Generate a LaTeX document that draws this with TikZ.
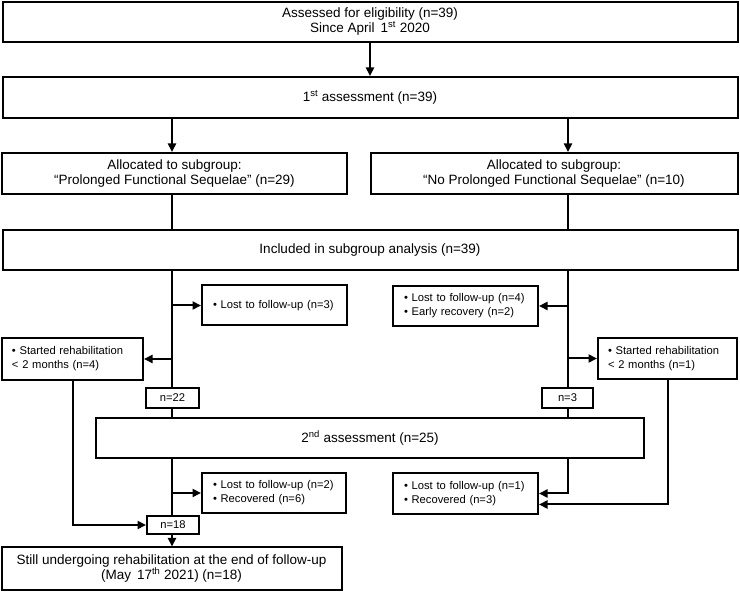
\documentclass[tikz,border=0pt]{standalone}
\usepackage{fontspec}
\setmainfont{Liberation Sans}
\usetikzlibrary{arrows.meta}
\newcommand\bigtxt{\fontsize{13.5}{15}\selectfont}
\newcommand\smalltxt{\fontsize{11.2}{13.8}\selectfont}
\begin{document}
\begin{tikzpicture}[x=1pt,y=-1pt,
  box/.style={draw, line width=2pt, inner sep=0pt, align=center, font=\bigtxt},
  sbox/.style={draw, line width=2pt, inner xsep=11pt, inner ysep=0pt, align=left, font=\smalltxt},
  nbox/.style={draw, line width=2pt, inner sep=0pt, align=center, font=\smalltxt},
  ln/.style={line width=2pt},
  arr/.style={line width=2pt, -{Triangle[length=8.5pt,width=8pt]}}]
\useasboundingbox (0,0) rectangle (740,593);
\coordinate (colL) at (172,0);
\coordinate (colR) at (568,0);

\node[box, minimum width=735pt, minimum height=40pt] (b1) at (370,22)
  {Assessed for eligibility (n=39)\\Since April \,1\textsuperscript{st} 2020};
\node[box, minimum width=735pt, minimum height=41pt] (b2) at (370,97.5)
  {1\textsuperscript{st} assessment (n=39)};
\node[box, minimum width=345pt, minimum height=41pt] (b3L) at (174.5,173.5)
  {Allocated to subgroup:\\“Prolonged Functional Sequelae” (n=29)};
\node[box, minimum width=367pt, minimum height=41pt] (b3R) at (554,173.5)
  {Allocated to subgroup:\\“No Prolonged Functional Sequelae” (n=10)};
\node[box, minimum width=735pt, minimum height=40pt] (b4) at (370,250)
  {Included in subgroup analysis (n=39)};

\node[sbox, text width=123pt, minimum height=40pt] (lostL) at (274.5,305.5)
  {\textbullet\ Lost to follow-up (n=3)};
\node[sbox, text width=123pt, minimum height=40pt] (lostR) at (465.5,306)
  {\textbullet\ Lost to follow-up (n=4)\\\textbullet\ Early recovery (n=2)};
\node[sbox, inner xsep=10pt, text width=121pt, minimum height=42pt] (startL) at (72.5,359)
  {\textbullet\ Started rehabilitation\\< 2 months (n=4)};
\node[sbox, inner xsep=10pt, text width=119pt, minimum height=41pt] (startR) at (667.5,358.5)
  {\textbullet\ Started rehabilitation\\< 2 months (n=1)};

\node[nbox, minimum width=53pt, minimum height=20pt] (n22) at (172.5,398) {n=22};
\node[nbox, minimum width=51pt, minimum height=20pt] (n3) at (567.5,398) {n=3};

\node[box, minimum width=548pt, minimum height=40pt] (b5) at (370,438)
  {2\textsuperscript{nd} assessment (n=25)};

\node[sbox, text width=122pt, minimum height=40pt] (lost2L) at (274,493)
  {\textbullet\ Lost to follow-up (n=2)\\\textbullet\ Recovered (n=6)};
\node[sbox, text width=123pt, minimum height=41pt] (lost2R) at (465.5,493.5)
  {\textbullet\ Lost to follow-up (n=1)\\\textbullet\ Recovered (n=3)};

\node[nbox, minimum width=52pt, minimum height=18pt] (n18) at (173,525) {n=18};
\node[box, minimum width=340pt, minimum height=43pt] (fin) at (171.5,569)
  {Still undergoing rehabilitation at the end of follow-up\\(May \,17\textsuperscript{th} 2021) (n=18)};

% connectors
\draw[arr] (b1) -- (b2);
\draw[arr] (b2.south -| colL) -- (b3L.north -| colL);
\draw[arr] (b2.south -| colR) -- (b3R.north -| colR);
\draw[ln] (b3L.south -| colL) -- (b4.north -| colL);
\draw[ln] (b3R.south -| colR) -- (b4.north -| colR);
\draw[ln] (b4.south -| colL) -- (n22.north -| colL);
\draw[ln] (b4.south -| colR) -- (n3.north -| colR);
\draw[arr] (lostL.west -| colL) -- (lostL.west);
\draw[arr] (startL.east -| colL) -- (startL.east);
\draw[arr] (lostR.east -| colR) -- (lostR.east);
\draw[arr] (startR.west -| colR) -- (startR.west);
\draw[ln] (n22.south -| colL) -- (b5.north -| colL);
\draw[ln] (n3.south -| colR) -- (b5.north -| colR);
\draw[ln] (b5.south -| colL) -- (n18.north -| colL);
\draw[arr] (lost2L.west -| colL) -- (lost2L.west);
\draw[arr] (startL.south) |- (n18.west);
\draw[arr] (n18.south -| colL) -- (fin.north -| colL);
\draw[arr] (b5.south -| colR) |- (lost2R.east);
\draw[arr] (startR.south) |- ([yshift=-11pt]lost2R.east);
\end{tikzpicture}
\end{document}
